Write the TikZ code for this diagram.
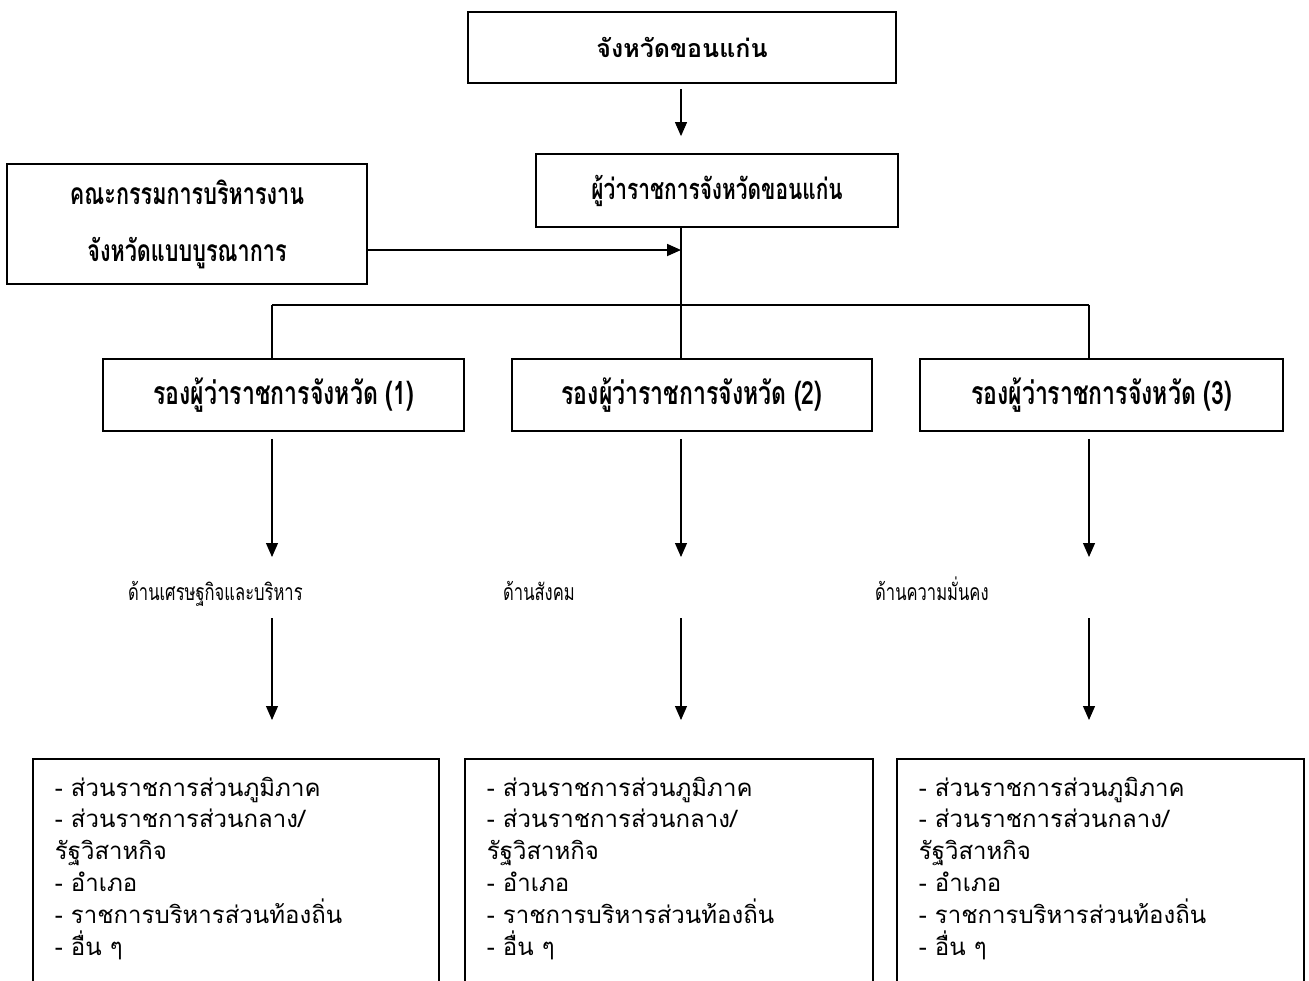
\documentclass[tikz,border=0pt]{standalone}
\usepackage{fontspec}
\setmainfont{Loma}[Script=Thai]
\newfontfamily\thaicond{Loma}[Script=Thai,FakeStretch=0.72]
\usetikzlibrary{arrows.meta}

\begin{document}
\begin{tikzpicture}[x=1pt, y=-1pt,
    box/.style={draw, line width=1.8pt, inner sep=0pt},
    headbox/.style={box, font=\thaicond\bfseries\fontsize{32}{36}\selectfont},
    listbox/.style={draw, line width=1.8pt, anchor=north west, inner xsep=22pt, inner ysep=18pt,
        font=\fontsize{24}{31.8}\selectfont},
    lab/.style={anchor=base west, inner sep=0pt, font=\thaicond\fontsize{23}{26}\selectfont},
    link/.style={line width=1.1pt},
    arr/.style={line width=1.1pt, -{Triangle[length=14pt,width=12pt]}}]
    \useasboundingbox (0,0) rectangle (1309,980);
    \clip (0,0) rectangle (1309,980);

    % Province
    \node[box, font=\bfseries\fontsize{25}{30}\selectfont, minimum width=428pt, minimum height=71pt] (prov) at (682,47.5) {จังหวัดขอนแก่น};

    % Governor
    \node[headbox, font=\thaicond\bfseries\fontsize{29}{34}\selectfont, minimum width=362pt, minimum height=73pt] (gov) at (717,190.5) {ผู้ว่าราชการจังหวัดขอนแก่น};

    % Committee
    \node[headbox, align=center, font=\thaicond\bfseries\fontsize{30}{57}\selectfont, minimum width=360pt, minimum height=120pt] (com) at (187,224) {คณะกรรมการบริหารงาน\\จังหวัดแบบบูรณาการ};

    % Deputies
    \node[headbox, minimum width=361pt, minimum height=72pt] (d1) at (283.5,395) {รองผู้ว่าราชการจังหวัด (1)};
    \node[headbox, minimum width=360pt, minimum height=72pt] (d2) at (692,395) {รองผู้ว่าราชการจังหวัด (2)};
    \node[headbox, minimum width=363pt, minimum height=72pt] (d3) at (1101.5,395) {รองผู้ว่าราชการจังหวัด (3)};

    % Fields
    \node[lab] (l1) at (128,600) {ด้านเศรษฐกิจและบริหาร};
    \node[lab] (l2) at (503,600) {ด้านสังคม};
    \node[lab] (l3) at (875,600) {ด้านความมั่นคง};

    % Agencies
    \node[listbox] (b1) at (32,758) {\parbox[t][240pt][t]{362pt}{\raggedright
        - ส่วนราชการส่วนภูมิภาค\\- ส่วนราชการส่วนกลาง/\\รัฐวิสาหกิจ\\- อำเภอ\\- ราชการบริหารส่วนท้องถิ่น\\- อื่น ๆ}};
    \node[listbox] (b2) at (464,758) {\parbox[t][240pt][t]{364pt}{\raggedright
        - ส่วนราชการส่วนภูมิภาค\\- ส่วนราชการส่วนกลาง/\\รัฐวิสาหกิจ\\- อำเภอ\\- ราชการบริหารส่วนท้องถิ่น\\- อื่น ๆ}};
    \node[listbox] (b3) at (896,758) {\parbox[t][240pt][t]{363pt}{\raggedright
        - ส่วนราชการส่วนภูมิภาค\\- ส่วนราชการส่วนกลาง/\\รัฐวิสาหกิจ\\- อำเภอ\\- ราชการบริหารส่วนท้องถิ่น\\- อื่น ๆ}};

    % Connectors
    \coordinate (k1) at (272,305);
    \coordinate (k2) at (681,305);
    \coordinate (k3) at (1089,305);
    \coordinate (j) at (681,250);
    \draw[arr, shorten <=5pt, shorten >=17pt] (prov.south -| k2) -- (gov.north -| k2);
    \draw[link] (gov.south -| k2) -- (k2);
    \draw[arr, line width=1.8pt] (com.east |- j) -- (j);
    \draw[link] (k1) -- (k3);
    \draw[link] (k1) -- (k1 |- d1.north);
    \draw[link] (k2) -- (k2 |- d2.north);
    \draw[link] (k3) -- (k3 |- d3.north);

    \coordinate (t1) at (272,557);
    \coordinate (t2) at (681,557);
    \coordinate (t3) at (1089,557);
    \draw[arr, shorten <=7pt] (d1.south -| t1) -- (t1);
    \draw[arr, shorten <=7pt] (d2.south -| t2) -- (t2);
    \draw[arr, shorten <=7pt] (d3.south -| t3) -- (t3);

    \coordinate (u1) at (272,618);
    \coordinate (u2) at (681,618);
    \coordinate (u3) at (1089,618);
    \draw[arr, shorten >=38pt] (u1) -- (u1 |- b1.north);
    \draw[arr, shorten >=38pt] (u2) -- (u2 |- b2.north);
    \draw[arr, shorten >=38pt] (u3) -- (u3 |- b3.north);
\end{tikzpicture}
\end{document}
